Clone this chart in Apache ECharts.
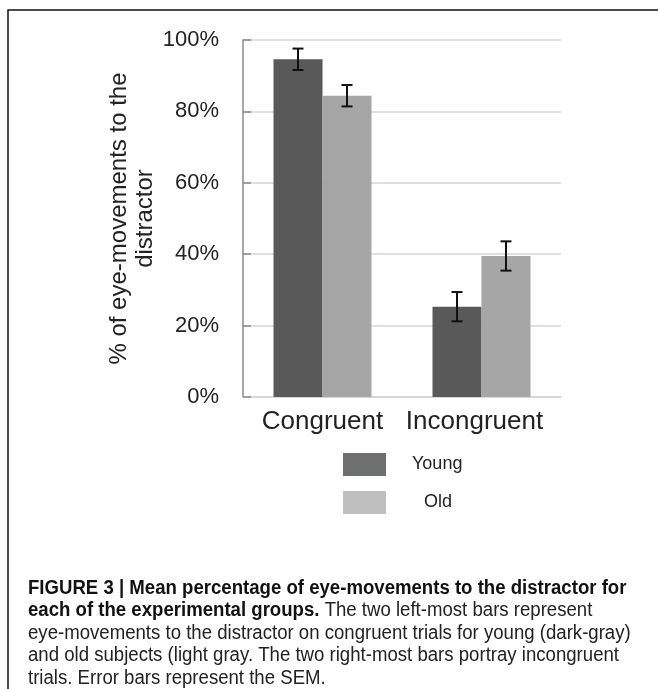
<!DOCTYPE html>
<html>
<head>
<meta charset="utf-8">
<script src="https://cdn.jsdelivr.net/npm/echarts@6/dist/echarts.min.js"></script>
<style>
html,body{margin:0;padding:0;background:#fff;}
#chart{width:658px;height:689px;}
</style>
</head>
<body>
<div id="chart"></div>
<script>
// ---- data ----
const categories = ['Congruent', 'Incongruent'];
const seriesNames = ['Young', 'Old'];
const youngMeans = [94.6, 25.3];
const oldMeans = [84.4, 39.5];
const youngSem = [3.0, 4.1];
const oldSem = [3.0, 4.1];
const yAxisTitle = '% of eye-movements to the\ndistractor';
const captionBold = 'FIGURE 3 | Mean percentage of eye-movements to the distractor for\neach of the experimental groups.';
const captionRest = ' The two left-most bars represent\neye-movements to the distractor on congruent trials for young (dark-gray)\nand old subjects (light gray. The two right-most bars portray incongruent\ntrials. Error bars represent the SEM.';

// ---- style ----
const BAR_W = 49;
const youngColor = '#595959';
const oldColor = '#a6a6a6';

const errData = [];
categories.forEach(function (c, i) {
  errData.push([i, youngMeans[i], youngSem[i], 0]);
  errData.push([i, oldMeans[i], oldSem[i], 1]);
});

const chart = echarts.init(document.getElementById('chart'), null, {renderer: 'canvas'});
const option = {
  backgroundColor: '#ffffff',
  animation: false,
  grid: {left: 243, right: 97, top: 40, bottom: 292},
  xAxis: {
    type: 'category',
    data: categories,
    axisLine: {lineStyle: {color: '#d8d4d2', width: 1.5}},
    axisTick: {show: false},
    axisLabel: {
      interval: 0,
      hideOverlap: false,
      fontFamily: 'Liberation Sans, Arial, sans-serif',
      fontSize: 26, color: '#222', margin: 12,
      formatter: function (v) { return v === 'Incongruent' ? '{s|' + v + '}' : v; },
      rich: {s: {fontFamily: 'Liberation Sans, Arial, sans-serif', fontSize: 26, color: '#222', padding: [0, 14, 0, 0]}}
    }
  },
  yAxis: {
    type: 'value',
    min: 0, max: 100, interval: 20,
    name: yAxisTitle,
    nameLocation: 'middle',
    nameRotate: 90,
    nameGap: 82,
    nameTextStyle: {fontFamily: 'Liberation Sans, Arial, sans-serif', fontSize: 24, color: '#222', lineHeight: 26},
    axisLine: {show: true, lineStyle: {color: '#8a8a8a', width: 1.5}},
    axisTick: {show: true, inside: true, length: 8, lineStyle: {color: '#8a8a8a', width: 1.5}},
    splitLine: {lineStyle: {color: '#d8d4d2', width: 1.5}},
    axisLabel: {
      fontFamily: 'Liberation Sans, Arial, sans-serif',
      fontSize: 22, color: '#222', margin: 24,
      formatter: '{value}%'
    }
  },
  legend: {
    orient: 'vertical',
    left: 343, top: 453,
    padding: 0,
    itemWidth: 43, itemHeight: 23, itemGap: 15,
    icon: 'rect',
    selectedMode: false,
    data: [
      {name: 'Young', itemStyle: {color: '#6f7171'}},
      {name: 'Old', itemStyle: {color: '#bfbfbf'}}
    ],
    formatter: function (n) { return (n === 'Old' ? '{o|}' : '{y|}') + n; },
    textStyle: {
      fontFamily: 'Liberation Sans, Arial, sans-serif', fontSize: 18, color: '#222',
      rich: {y: {width: 21, fontSize: 18}, o: {width: 33, fontSize: 18}}
    }
  },
  series: [
    {name: seriesNames[0], type: 'bar', data: youngMeans, barWidth: BAR_W, barGap: '0%',
     itemStyle: {color: youngColor}},
    {name: seriesNames[1], type: 'bar', data: oldMeans, barWidth: BAR_W, barGap: '0%',
     itemStyle: {color: oldColor}},
    {
      type: 'custom', name: 'SEM', data: errData, z: 10,
      renderItem: function (params, api) {
        const ci = api.value(0), m = api.value(1), e = api.value(2), g = api.value(3);
        const off = (g === 0 ? -1 : 1) * BAR_W / 2;
        const top = api.coord([ci, m + e]);
        const bot = api.coord([ci, m - e]);
        const x = top[0] + off;
        const cap = 5.5;
        const st = {stroke: '#111', lineWidth: 2};
        return {type: 'group', children: [
          {type: 'line', shape: {x1: x, y1: top[1], x2: x, y2: bot[1]}, style: st},
          {type: 'line', shape: {x1: x - cap, y1: top[1], x2: x + cap, y2: top[1]}, style: st},
          {type: 'line', shape: {x1: x - cap, y1: bot[1], x2: x + cap, y2: bot[1]}, style: st}
        ]};
      }
    }
  ],
  graphic: [
    {type: 'polyline', shape: {points: [[658, 10], [8, 10], [8, 689]]},
     style: {stroke: '#111', lineWidth: 1.5, fill: null}, silent: true},
    {type: 'text', x: 28, y: 577, scaleX: 0.93, scaleY: 1, originX: 0, originY: 0, silent: true,
     style: {
       text: '{b|' + captionBold + '}{n|' + captionRest + '}',
       rich: {
         b: {fontFamily: 'Liberation Sans, Arial, sans-serif', fontWeight: 'bold', fontSize: 20, lineHeight: 22.5, fill: '#111'},
         n: {fontFamily: 'Liberation Sans, Arial, sans-serif', fontSize: 20, lineHeight: 22.5, fill: '#222'}
       }
     }}
  ]
};
chart.setOption(option);
</script>
</body>
</html>
